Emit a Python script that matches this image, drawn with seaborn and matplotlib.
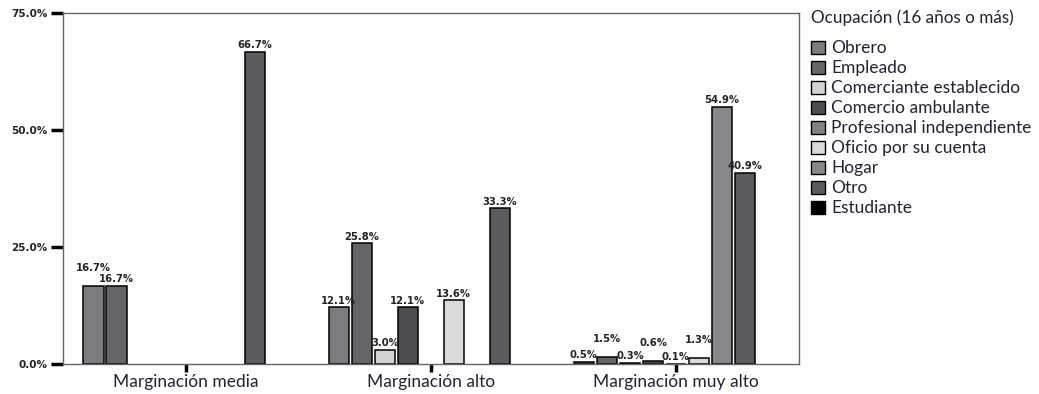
import matplotlib
matplotlib.use("Agg")
import matplotlib.pyplot as plt
import seaborn as sns
import pandas as pd
from matplotlib.patches import Patch

groups = ["Marginación media", "Marginación alto", "Marginación muy alto"]
occupations = ["Obrero", "Empleado", "Comerciante establecido", "Comercio ambulante",
               "Profesional independiente", "Oficio por su cuenta", "Hogar", "Otro", "Estudiante"]
colors = ["#7c7c7e", "#656567", "#d3d3d3", "#4e4e51", "#838385", "#dadada", "#88888a", "#5b5b5f", "#000000"]

# values (None = no bar)
media = [16.7, 16.7, None, None, None, None, None, 66.7, None]
alto = [12.1, 25.8, 3.0, 12.1, None, 13.6, None, 33.3, None]
muy_alto = [0.5, 1.5, 0.3, 0.6, 0.1, 1.3, 54.9, 40.9, None]
# label lifts (pts) to avoid overlapping labels
lift_media = [8, 0, 0, 0, 0, 0, 0, 0, 0]
lift_alto = [0, 0, 0, 0, 0, 0, 0, 0, 0]
lift_muy = [0, 8, 0, 8, 0, 8, 0, 0, 0]

rows = []
for g, vals in zip(groups, [media, alto, muy_alto]):
    for o, v in zip(occupations, vals):
        if v is not None:
            rows.append({"grupo": g, "ocupacion": o, "pct": v})
df = pd.DataFrame(rows)

sns.set_theme(style="white")
plt.rcParams["font.family"] = ["Lato", "DejaVu Sans"]

fig = plt.figure(figsize=(10.39, 3.94), dpi=100)
ax = fig.add_axes([0.0606, 0.076, 0.708, 0.891])

sns.barplot(data=df, x="grupo", y="pct", hue="ocupacion", order=groups, hue_order=occupations,
            palette=colors, width=0.845, gap=0.12, edgecolor="black", linewidth=1.1,
            legend=False, ax=ax)

ax.set_ylim(0, 75)
ax.set_xlim(-0.5, 2.5)
ax.set_yticks([0, 25, 50, 75])
ax.set_yticklabels(["0.0%", "25.0%", "50.0%", "75.0%"], fontsize=7.5, fontweight="bold",
                   family="DejaVu Sans", color="#222222")
ax.set_xticks(range(len(groups)))
ax.set_xticklabels(groups, fontsize=12.5, color="#222233")
ax.set_xlabel("")
ax.set_ylabel("")
ax.tick_params(axis="y", direction="out", length=9, width=2.5, color="black", pad=2, left=True)
ax.tick_params(axis="x", direction="out", length=6, width=2.5, color="black", pad=1, bottom=True)
for s in ax.spines.values():
    s.set_color("#666666")
    s.set_linewidth(1.0)

# value labels
lifts = {}
for g, ls in zip(groups, [lift_media, lift_alto, lift_muy]):
    for o, l in zip(occupations, ls):
        lifts[(g, o)] = l
present = [o for o in occupations if o in set(df["ocupacion"])]
for cont, occ in zip(ax.containers, present):
    sub = df[df["ocupacion"] == occ]
    for bar, (_, r) in zip(cont, sub.iterrows()):
        x = bar.get_x() + bar.get_width() / 2
        y = bar.get_height()
        ax.annotate(f"{r['pct']:.1f}%", (x, y), xytext=(0, 1.2 + lifts[(r['grupo'], occ)]),
                    textcoords="offset points", ha="center", va="bottom",
                    fontsize=7.2, fontweight="bold", family="DejaVu Sans", color="#222222")

handles = [Patch(facecolor=c, edgecolor="black", linewidth=1.0) for c in colors]
leg = fig.legend(handles, occupations, title="Ocupación (16 años o más)",
                 loc="upper left", bbox_to_anchor=(0.781, 0.975), frameon=False,
                 fontsize=12.5, title_fontsize=12.3, handlelength=0.8, handleheight=0.8,
                 handletextpad=0.35, labelspacing=0.23, borderaxespad=0, borderpad=0)
leg._legend_box.align = "left"
leg._legend_box.sep = 10
for t in leg.get_texts():
    t.set_color("#222233")
leg.get_title().set_color("#222233")

fig.savefig("out.png", dpi=100)
